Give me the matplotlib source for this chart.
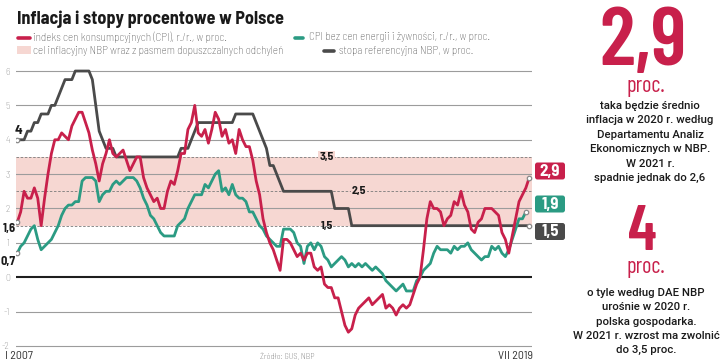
import matplotlib
matplotlib.use("Agg")
import matplotlib.pyplot as plt
from matplotlib.patches import Rectangle, FancyBboxPatch

# ── dane (miesięcznie, I 2007 – VII 2019) ────────────────────────────────────

cpi = [
    1.6, 1.9, 2.5, 2.3, 2.3, 2.6, 2.3, 1.5, 2.3, 3.0, 3.6, 4.0,        # 2007
    4.0, 4.2, 4.1, 4.0, 4.4, 4.6, 4.8, 4.8, 4.5, 4.2, 3.7, 3.3,        # 2008
    2.8, 3.3, 3.6, 4.0, 3.6, 3.5, 3.6, 3.7, 3.4, 3.1, 3.3, 3.5,        # 2009
    3.5, 2.9, 2.6, 2.4, 2.2, 2.3, 2.0, 2.0, 2.5, 2.8, 2.7, 3.1,        # 2010
    3.6, 3.6, 4.3, 4.5, 5.0, 4.2, 4.1, 4.3, 3.9, 4.3, 4.8, 4.6,        # 2011
    4.1, 4.3, 3.9, 4.0, 3.6, 4.3, 4.0, 3.8, 3.8, 3.4, 2.8, 2.4,        # 2012
    1.7, 1.3, 1.0, 0.8, 0.5, 0.2, 1.1, 1.1, 1.0, 0.8, 0.6, 0.7,        # 2013
    0.5, 0.7, 0.7, 0.3, 0.2, 0.3, -0.2, -0.3, -0.3, -0.6, -0.6, -1.0,  # 2014
    -1.4, -1.6, -1.5, -1.1, -0.9, -0.8, -0.7, -0.6, -0.8, -0.7, -0.6, -0.5,  # 2015
    -0.9, -0.8, -0.9, -1.1, -0.9, -0.8, -0.9, -0.8, -0.5, -0.2, 0.0, 0.8,    # 2016
    1.7, 2.2, 2.0, 2.0, 1.9, 1.5, 1.7, 1.8, 2.2, 2.1, 2.5, 2.1,        # 2017
    1.9, 1.4, 1.3, 1.6, 1.7, 2.0, 2.0, 2.0, 1.9, 1.8, 1.3, 1.1,        # 2018
    0.7, 1.2, 1.7, 2.2, 2.4, 2.6, 2.9,                                 # 2019
]

# inflacja bazowa – dane do VI 2019
core = [
    0.7, 0.9, 1.0, 1.2, 1.4, 1.5, 1.1, 0.8, 0.9, 1.0, 1.1, 1.3,
    1.5, 1.8, 2.0, 2.1, 2.1, 2.2, 2.2, 2.8, 2.9, 2.9, 2.9, 2.8,
    2.2, 2.4, 2.5, 2.5, 2.7, 2.8, 2.7, 2.8, 2.9, 2.9, 2.9, 2.8,
    2.6, 2.3, 2.1, 1.8, 1.7, 1.5, 1.3, 1.2, 1.2, 1.2, 1.2, 1.5,
    1.6, 1.7, 2.0, 2.2, 2.4, 2.4, 2.4, 2.7, 2.6, 2.8, 3.0, 3.1,
    2.5, 2.6, 2.4, 2.7, 2.4, 2.3, 2.3, 2.2, 1.9, 1.9, 1.7, 1.5,
    1.4, 1.2, 1.1, 1.0, 0.9, 0.9, 1.4, 1.4, 1.4, 1.3, 1.0, 0.9,
    0.4, 0.9, 1.0, 0.8, 1.0, 0.9, 0.6, 0.5, 0.3, 0.4, 0.5, 0.6,
    0.5, 0.3, 0.4, 0.3, 0.4, 0.3, 0.4, 0.3, 0.2, 0.3, 0.2, 0.1,
    -0.1, -0.2, -0.3, -0.4, -0.3, -0.2, -0.4, -0.4, -0.4, -0.1, 0.0, 0.2,
    0.3, 0.4, 0.7, 0.9, 0.8, 0.8, 0.8, 0.7, 0.9, 0.8, 0.9, 0.9,
    1.0, 0.8, 0.7, 0.6, 0.5, 0.6, 0.6, 0.9, 0.8, 0.9, 0.7, 0.6,
    0.8, 1.1, 1.4, 1.7, 1.7, 1.9,
]

ref_rate = [
    4.0, 4.0, 4.0, 4.25, 4.25, 4.5, 4.5, 4.75, 4.75, 4.75, 5.0, 5.0,
    5.25, 5.5, 5.75, 5.75, 5.75, 6.0, 6.0, 6.0, 6.0, 6.0, 5.75, 5.0,
    4.25, 4.0, 3.75, 3.75, 3.75, 3.5, 3.5, 3.5, 3.5, 3.5, 3.5, 3.5,
    3.5, 3.5, 3.5, 3.5, 3.5, 3.5, 3.5, 3.5, 3.5, 3.5, 3.5, 3.5,
    3.75, 3.75, 3.75, 4.0, 4.25, 4.5, 4.5, 4.5, 4.5, 4.5, 4.5, 4.5,
    4.5, 4.5, 4.5, 4.5, 4.75, 4.75, 4.75, 4.75, 4.75, 4.75, 4.5, 4.25,
    4.0, 3.75, 3.25, 3.25, 3.0, 2.75, 2.5, 2.5, 2.5, 2.5, 2.5, 2.5,
    2.5, 2.5, 2.5, 2.5, 2.5, 2.5, 2.5, 2.5, 2.5, 2.0, 2.0, 2.0,
    2.0, 2.0, 1.5, 1.5, 1.5, 1.5, 1.5, 1.5, 1.5, 1.5, 1.5, 1.5,
    1.5, 1.5, 1.5, 1.5, 1.5, 1.5, 1.5, 1.5, 1.5, 1.5, 1.5, 1.5,
    1.5, 1.5, 1.5, 1.5, 1.5, 1.5, 1.5, 1.5, 1.5, 1.5, 1.5, 1.5,
    1.5, 1.5, 1.5, 1.5, 1.5, 1.5, 1.5, 1.5, 1.5, 1.5, 1.5, 1.5,
    1.5, 1.5, 1.5, 1.5, 1.5, 1.5, 1.5,
]

target = 2.5
target_lo, target_hi = 1.5, 3.5
y_ticks = [6, 5, 4, 3, 2, 1, 0, -1, -2]
start_labels = ["4", "1,6", "0,7"]
end_labels = ["2,9", "1,9", "1,5"]
x_first, x_last = "I 2007", "VII 2019"

# ── kolory / fonty ───────────────────────────────────────────────────────────

RED = "#c8204b"
TEAL = "#2b9b83"
GREY = "#4a4a4a"
BAND = "#f6d7d2"
SEMI = ["Barlow Semi Condensed", "DejaVu Sans"]
COND = ["Barlow Condensed", "DejaVu Sans"]
BODY = ["Roboto", "DejaVu Sans"]

fig = plt.figure(figsize=(7.2, 3.62), dpi=100)
W, H = 720, 362

# oś danych: miesiące 0..150, y od -2 do 6
ax = fig.add_axes([15.9 / W, 0.0348, (532 - 15.9) / W, 0.7785])
ax.set_xlim(-0.4, 150.8)
ax.set_ylim(-2.1, 6.1)
for s in ax.spines.values():
    s.set_visible(False)
ax.set_xticks([])
ax.set_yticks(y_ticks)
ax.set_yticklabels([str(v) for v in y_ticks], fontsize=7, color="#808080",
                   family=SEMI, fontweight="light")
ax.tick_params(axis="y", length=0, pad=4.5)
ax.patch.set_alpha(0)

ax.axhspan(target_lo, target_hi, color=BAND, lw=0, zorder=0)
for v in y_ticks:
    if v == 0:
        ax.axhline(v, color="#1e1e1e", lw=1.5, zorder=1)
    else:
        ax.axhline(v, color="#9c9c9c", lw=0.8, zorder=1)
for v in (target_lo, target, target_hi):
    ax.axhline(v, color="#7a7a7a", lw=0.6, dashes=(3, 2), zorder=1)

ax.plot(range(len(ref_rate)), ref_rate, color=GREY, lw=2.0, zorder=3, solid_joinstyle="round")
ax.plot(range(len(core)), core, color=TEAL, lw=2.0, zorder=4, solid_joinstyle="round")
ax.plot(range(len(cpi)), cpi, color=RED, lw=2.0, zorder=5, solid_joinstyle="round")

# kropki na końcach
for series in (ref_rate, cpi, core):
    ax.plot([0, len(series) - 1], [series[0], series[-1]], ls="none", marker="o",
            ms=3.2, mfc="white", mec="#8a8a8a", mew=0.9, zorder=6)

# etykiety pasma
for txt, m, v in (("3,5", 90.7, target_hi), ("2,5", 100.1, target), ("1,5", 90.7, target_lo)):
    ax.text(m, v, txt, ha="center", va="center", fontsize=8.5, fontweight="bold",
            family=SEMI, color="#1a1a1a", zorder=2,
            bbox=dict(boxstyle="square,pad=0.1", fc=BAND, ec="none") if v > target_lo else None)

# etykiety startowe
ax.text(0.3, ref_rate[0] + 0.27, start_labels[0], ha="center", va="center",
        fontsize=10, fontweight="bold", family=SEMI, color="#1a1a1a", clip_on=False)
ax.text(-0.5, cpi[0] - 0.18, start_labels[1], ha="right", va="center",
        fontsize=9, fontweight="bold", family=SEMI, color="#1a1a1a", clip_on=False)
ax.text(-0.5, core[0] - 0.24, start_labels[2], ha="right", va="center",
        fontsize=9, fontweight="bold", family=SEMI, color="#1a1a1a", clip_on=False)

# ── nakładka w pikselach: tytuł, legenda, podpisy, panel ───────────────────

ov = fig.add_axes([0, 0, 1, 1])
ov.set_xlim(0, W)
ov.set_ylim(H, 0)
ov.axis("off")
ov.patch.set_alpha(0)

# etykiety końcowe w ramkach
for txt, yc, c in zip(end_labels, (171, 204, 231.5), (RED, TEAL, GREY)):
    ov.add_patch(FancyBboxPatch((535, yc - 8.5), 30, 17, fc=c, ec="none",
                                boxstyle="round,pad=0,rounding_size=2.5"))
    ov.text(550, yc + 0.5, txt, ha="center", va="center", fontsize=12,
            fontweight="bold", family=SEMI, color="white")

ov.text(17, 23.5, "Inflacja i stopy procentowe w Polsce", fontsize=13,
        fontweight="bold", family=SEMI, color="#1a1a1a", va="baseline")

leg_kw = dict(fontsize=8, family=SEMI, fontweight="light", color="#4a4a4a", va="center")
ov.plot([18, 30], [37.5, 37.5], color=RED, lw=2.6, solid_capstyle="round")
ov.text(33, 37.5, "indeks cen konsumpcyjnych (CPI), r./r., w proc.", **leg_kw)
ov.plot([295, 303], [37.5, 37.5], color=TEAL, lw=2.6, solid_capstyle="round")
ov.text(309, 37.5, "CPI bez cen energii i żywności, r./r., w proc.", **leg_kw)
ov.add_patch(Rectangle((17, 46), 14, 8, fc=BAND, ec="none"))
ov.text(33, 50.5, "cel inflacyjny NBP wraz z pasmem dopuszczalnych odchyleń", **leg_kw)
ov.plot([324, 334], [50.5, 50.5], color=GREY, lw=2.6, solid_capstyle="round")
ov.text(339, 50.5, "stopa referencyjna NBP, w proc.", **leg_kw)

ov.text(5, 356, x_first, fontsize=8.5, family=SEMI, color="#333333", va="center")
ov.text(533, 356, x_last, fontsize=8.5, family=SEMI, color="#333333",
        va="center", ha="right")
ov.text(287, 357, "Źródło: GUS, NBP", fontsize=6, family=SEMI, fontweight="light",
        color="#555555", va="center", ha="center")

# panel z prawej
cx = 646
ov.text(cx - 3, 65, "2,9", fontsize=60, fontweight="semibold", family=COND,
        color=RED, ha="center", va="baseline")
ov.text(cx, 92, "proc.", fontsize=16, family=COND, color=RED,
        ha="center", va="baseline")
txt1 = ["taka będzie średnio", "inflacja w 2020 r. według", "Departamentu Analiz",
        "Ekonomicznych w NBP.", "W 2021 r.", "spadnie jednak do 2,6"]
for i, line in enumerate(txt1):
    ov.text(cx + 4, 106 + i * 14.4, line, fontsize=8.2, fontweight="medium",
            family=BODY, color="#1a1a1a", ha="center", va="center")

ov.text(cx - 4, 250, "4", fontsize=45, fontweight="semibold", family=COND,
        color=RED, ha="center", va="baseline")
ov.text(cx, 273, "proc.", fontsize=16, family=COND, color=RED,
        ha="center", va="baseline")
txt2 = ["o tyle według DAE NBP", "urośnie w 2020 r.", "polska gospodarka.",
        "W 2021 r. wzrost ma zwolnić", "do 3,5 proc."]
for i, line in enumerate(txt2):
    ov.text(cx, 293 + i * 14.3, line, fontsize=8.2, fontweight="medium",
            family=BODY, color="#1a1a1a", ha="center", va="center")

fig.savefig("out.png", dpi=100)
